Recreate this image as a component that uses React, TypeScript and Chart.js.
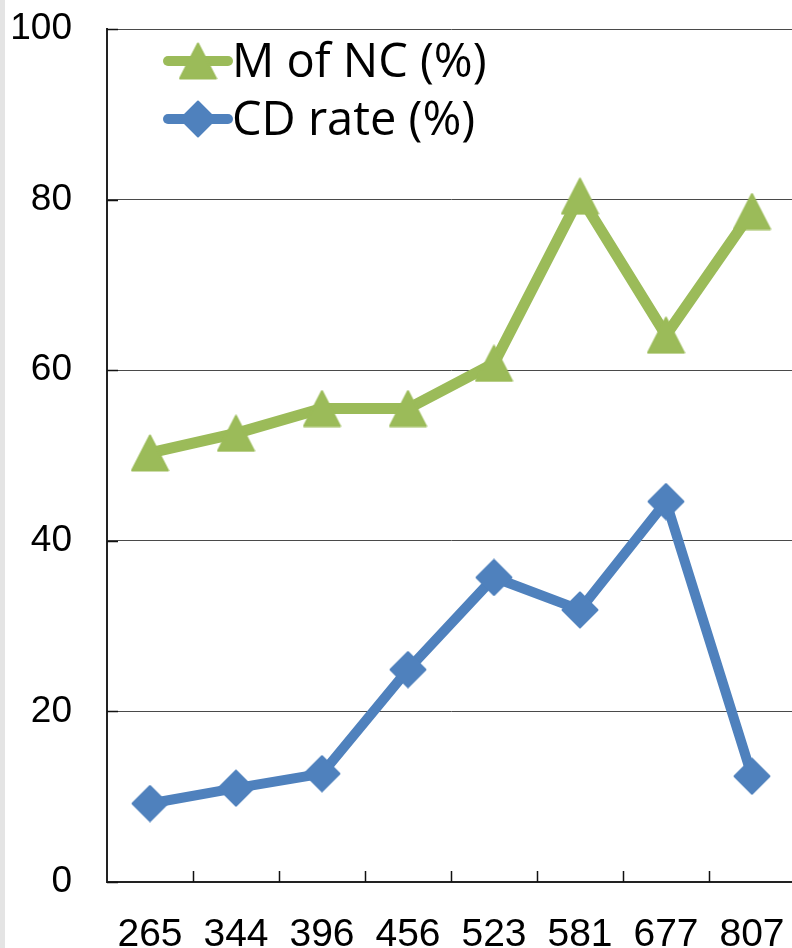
import React, { useEffect, useRef } from 'react';
import { Chart, registerables } from 'chart.js';

Chart.register(...registerables);

// Categories along the x axis
const sizes = ['265', '344', '396', '456', '523', '581', '677', '807'];
// Series values (%)
const mOfNC = [50.3, 52.6, 55.5, 55.5, 60.8, 80.4, 64.1, 78.6];
const cdRate = [9.2, 11.0, 12.7, 24.9, 35.7, 31.9, 44.6, 12.4];
// Value axis range
const yMin = 0;
const yMax = 100;
const yStep = 20;

const seriesNames = ['M of NC (%)', 'CD rate (%)'];

const GREEN = '#9BBB59';
const BLUE = '#4F81BD';

function makeTriangle(color: string): HTMLCanvasElement {
  const c = document.createElement('canvas');
  c.width = 39;
  c.height = 38;
  const ctx = c.getContext('2d')!;
  ctx.fillStyle = color;
  ctx.strokeStyle = color;
  ctx.lineJoin = 'round';
  ctx.lineWidth = 2;
  ctx.beginPath();
  ctx.moveTo(19.5, 1.5);
  ctx.lineTo(37.5, 36.5);
  ctx.lineTo(1.5, 36.5);
  ctx.closePath();
  ctx.fill();
  ctx.stroke();
  return c;
}

function makeDiamond(color: string): HTMLCanvasElement {
  const c = document.createElement('canvas');
  c.width = 38;
  c.height = 38;
  const ctx = c.getContext('2d')!;
  ctx.fillStyle = color;
  ctx.strokeStyle = color;
  ctx.lineJoin = 'round';
  ctx.lineWidth = 2;
  ctx.beginPath();
  ctx.moveTo(19, 1.5);
  ctx.lineTo(36.5, 19);
  ctx.lineTo(19, 36.5);
  ctx.lineTo(1.5, 19);
  ctx.closePath();
  ctx.fill();
  ctx.stroke();
  return c;
}

export default function App() {
  const canvasRef = useRef<HTMLCanvasElement | null>(null);

  useEffect(() => {
    const canvas = canvasRef.current;
    if (!canvas) return;

    const triangle = makeTriangle(GREEN);
    const diamond = makeDiamond(BLUE);

    // Background, inward tick marks and the in-plot legend
    const decorations = {
      id: 'decorations',
      beforeDraw(chart: any) {
        const { ctx, width, height } = chart;
        ctx.save();
        ctx.fillStyle = '#ffffff';
        ctx.fillRect(0, 0, width, height);
        ctx.fillStyle = '#e4e4e4';
        ctx.fillRect(0, 0, 5, height);
        ctx.restore();
      },
      afterDraw(chart: any) {
        const { ctx, chartArea, scales } = chart;
        const x = scales.x;
        const y = scales.y;
        ctx.save();
        ctx.strokeStyle = '#111111';
        ctx.lineWidth = 1.5;
        ctx.beginPath();
        // y axis ticks pointing into the plot
        y.ticks.forEach((t: any) => {
          const py = Math.round(y.getPixelForValue(t.value)) + 0.5;
          ctx.moveTo(chartArea.left, py);
          ctx.lineTo(chartArea.left + 11, py);
        });
        // x axis ticks between categories, pointing up
        for (let i = 0; i < sizes.length - 1; i++) {
          const px = Math.round((x.getPixelForValue(i) + x.getPixelForValue(i + 1)) / 2) + 0.5;
          ctx.moveTo(px, chartArea.bottom);
          ctx.lineTo(px, chartArea.bottom - 11);
        }
        ctx.stroke();

        // legend
        const markers = [triangle, diamond];
        const colors = [GREEN, BLUE];
        const rows = [61, 119];
        const x0 = 168;
        const x1 = 228;
        ctx.font = '47px "Open Sans"';
        ctx.textBaseline = 'middle';
        ctx.textAlign = 'left';
        seriesNames.forEach((name, i) => {
          const ry = rows[i];
          ctx.strokeStyle = colors[i];
          ctx.lineWidth = 10;
          ctx.lineCap = 'round';
          ctx.beginPath();
          ctx.moveTo(x0, ry);
          ctx.lineTo(x1, ry);
          ctx.stroke();
          const m = markers[i];
          ctx.drawImage(m, (x0 + x1) / 2 - m.width / 2, ry - m.height / 2);
          ctx.fillStyle = '#000000';
          ctx.fillText(name, 232, ry + 3);
        });
        ctx.restore();
      },
    };

    const chart = new Chart(canvas, {
      type: 'line',
      data: {
        labels: sizes,
        datasets: [
          {
            label: seriesNames[0],
            data: mOfNC,
            borderColor: GREEN,
            backgroundColor: GREEN,
            borderWidth: 11,
            pointStyle: triangle as any,
            pointRadius: 18,
            tension: 0,
          },
          {
            label: seriesNames[1],
            data: cdRate,
            borderColor: BLUE,
            backgroundColor: BLUE,
            borderWidth: 10,
            pointStyle: diamond as any,
            pointRadius: 18,
            tension: 0,
          },
        ],
      },
      options: {
        animation: false,
        responsive: false,
        events: [],
        layout: { padding: { left: 0, right: 4, top: 23, bottom: 0 } },
        plugins: {
          legend: { display: false },
          tooltip: { enabled: false },
        },
        scales: {
          x: {
            offset: true,
            grid: { display: false },
            border: { display: true, color: '#222222', width: 2 },
            ticks: {
              color: '#000000',
              padding: 22,
              maxRotation: 0,
              autoSkip: false,
              font: { family: "'Liberation Sans', Arial", size: 39 },
            },
            afterFit(scale: any) {
              scale.height = 66;
              scale.paddingLeft = 0;
              scale.paddingRight = 0;
            },
          },
          y: {
            min: yMin,
            max: yMax,
            grid: { color: '#4a4a4a', lineWidth: 1, drawTicks: false },
            border: { display: true, color: '#222222', width: 2 },
            ticks: {
              stepSize: yStep,
              color: '#000000',
              padding: 35,
              font: { family: "'Liberation Sans', Arial", size: 37 },
            },
            afterFit(scale: any) {
              scale.width = 107;
              scale.paddingTop = 0;
              scale.paddingBottom = 0;
            },
          },
        },
      },
      plugins: [decorations],
    });

    return () => {
      chart.destroy();
    };
  }, []);

  return (
    <div
      style={{
        position: 'fixed',
        left: 0,
        top: 0,
        width: 792,
        height: 948,
        overflow: 'hidden',
        background: '#ffffff',
      }}
    >
      <canvas ref={canvasRef} width={824} height={948} style={{ display: 'block' }} />
    </div>
  );
}
